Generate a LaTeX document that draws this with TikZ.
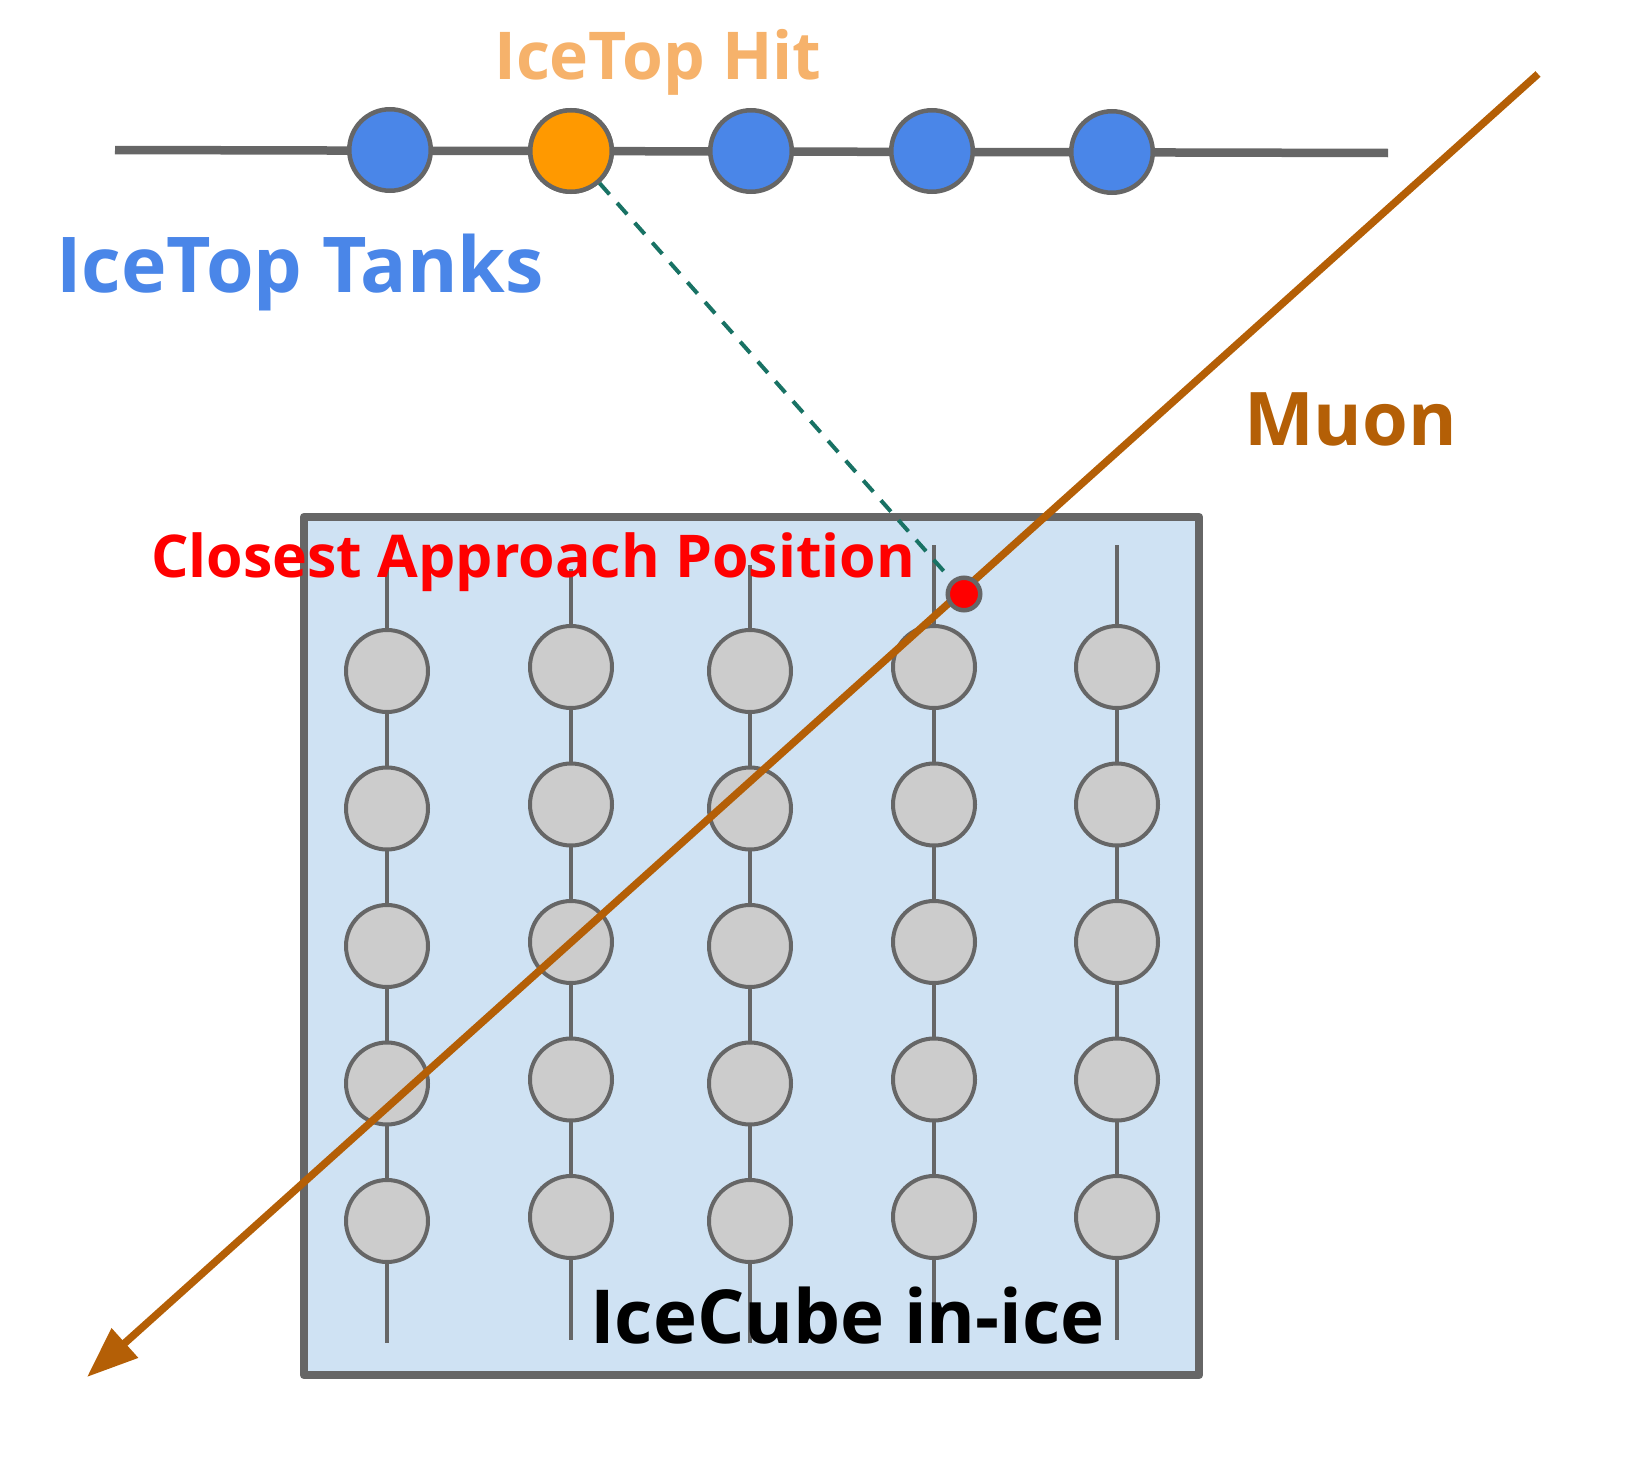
\documentclass[tikz,border=0pt]{standalone}
\usepackage{fontspec}
\setmainfont{Open Sans}
\usetikzlibrary{arrows.meta}

\definecolor{tankblue}{HTML}{4A86E8}
\definecolor{hitorange}{HTML}{FF9900}
\definecolor{hittext}{HTML}{F6B26B}
\definecolor{outline}{HTML}{666666}
\definecolor{domgray}{HTML}{CCCCCC}
\definecolor{icefill}{HTML}{CFE2F3}
\definecolor{muoncol}{HTML}{B45F06}
\definecolor{dashteal}{RGB}{24,114,100}

\tikzset{
  tank/.style={circle,draw=outline,line width=4.5pt,minimum size=81.5pt,inner sep=0pt,fill=tankblue},
  dom/.style={circle,draw=outline,line width=4pt,minimum size=82pt,inner sep=0pt,fill=domgray},
  txtlbl/.style={inner sep=0pt,anchor=base west}
}

\begin{document}
\begin{tikzpicture}[x=1pt,y=-1pt]
  \useasboundingbox (0,0) rectangle (1636,1464);
  % Surface with IceTop tanks
  \coordinate (surfL) at (115,150);
  \coordinate (surfR) at (1388,153);
  \draw[outline,line width=8.5pt] (surfL) -- (surfR);
  \foreach \x/\y [count=\i] in {390/150,571/151,751/151,932/151,1112/152}
    \node[tank] (tank\i) at (\x,\y) {};
  \node[tank,fill=hitorange] at (tank2) {};
  % In-ice volume
  \draw[outline,fill=icefill,line width=8.5pt,line join=round] (304,517) rectangle (1199,1375);
  % Strings and DOMs
  \foreach \x/\dy/\top/\bot [count=\s] in {387/0/566/1343,571/-4/569/1340,750/0/565/1343,934/-4/545/1340,1117/-4/545/1340}{
    \coordinate (top\s) at (\x,\top);
    \coordinate (bot\s) at (\x,\bot);
    \draw[outline,line width=4pt] (top\s) -- (bot\s);
    \foreach \j in {0,...,4}
      \node[dom] (dom\s-\j) at (\x,671+\dy+137.5*\j) {};
  }
  % Muon track
  \coordinate (muonstart) at (1538,74);
  \coordinate (muonend) at (87,1377);
  \draw[muoncol,line width=7.5pt,-{Triangle[length=51pt,width=38pt]}] (muonstart) -- (muonend);
  % Closest approach
  \node[circle,draw=outline,fill=red,line width=4.5pt,minimum size=32.5pt,inner sep=0pt] (cap) at (964,594) {};
  \draw[dashteal,line width=4pt,dash pattern=on 15pt off 11.5pt,shorten >=11pt] (tank2) -- (cap);
  % Labels
  \node[txtlbl,text=hittext,font=\fontsize{66}{66}\selectfont\bfseries] (hitlbl) at (494,80) {IceTop Hit};
  \node[txtlbl,text=tankblue,font=\fontsize{77}{77}\selectfont\bfseries] (tanklbl) at (56,292) {IceTop Tanks};
  \node[txtlbl,text=muoncol,font=\fontsize{74}{74}\selectfont\bfseries] (muonlbl) at (1244,445) {Muon};
  \node[txtlbl,text=red,font=\fontsize{59}{59}\selectfont\bfseries] (caplbl) at (151,577) {Closest Approach Position};
  \node[txtlbl,text=black,font=\fontsize{74.5}{74.5}\selectfont\bfseries] (icelbl) at (590,1343) {IceCube in-ice};
\end{tikzpicture}
\end{document}
